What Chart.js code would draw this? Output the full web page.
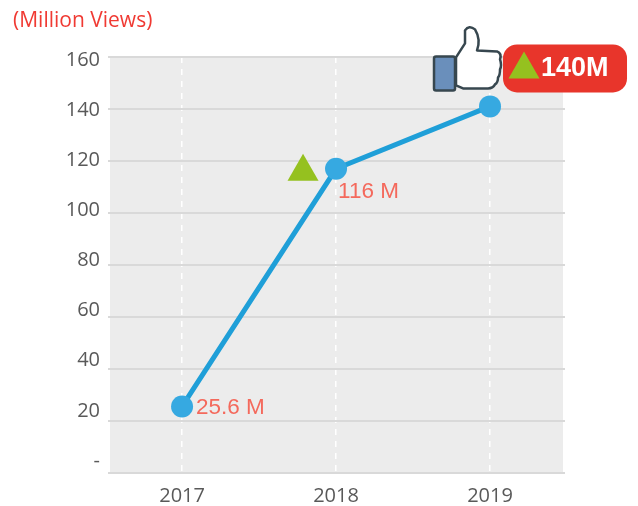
<!DOCTYPE html>
<html>
<head>
<meta charset="utf-8">
<script src="https://cdn.jsdelivr.net/npm/chart.js@4/dist/chart.umd.min.js"></script>
<style>html,body{margin:0;padding:0;background:#fff}canvas{display:block}</style>
</head>
<body>
<canvas id="c" width="638" height="506"></canvas>
<script>
const categories = [2017, 2018, 2019];
const views = [25.6, 117, 141];
const pointLabels = ['25.6 M', '116 M', ''];
const yTicks = [0, 20, 40, 60, 80, 100, 120, 140, 160];
const unitLabel = '(Million Views)';
const badgeLabel = '140M';

function triangle(ctx, cx, top, w, h) {
  ctx.fillStyle = '#95c11f';
  ctx.beginPath();
  ctx.moveTo(cx, top);
  ctx.lineTo(cx + w / 2, top + h);
  ctx.lineTo(cx - w / 2, top + h);
  ctx.closePath();
  ctx.fill();
}

const backdrop = {
  id: 'backdrop',
  beforeDraw(chart) {
    const a = chart.chartArea, ctx = chart.ctx;
    ctx.save();
    ctx.fillStyle = '#ececec';
    ctx.fillRect(a.left, a.top, a.right - a.left - 2, a.bottom - a.top);
    ctx.restore();
  }
};

const annotations = {
  id: 'annotations',
  afterDatasetsDraw(chart) {
    const ctx = chart.ctx, pts = chart.getDatasetMeta(0).data;
    ctx.save();
    // text
    ctx.font = '22.5px "Liberation Sans"';
    ctx.fillStyle = '#f4695c';
    ctx.textBaseline = 'middle';
    ctx.textAlign = 'left';
    ctx.fillText(pointLabels[0], pts[0].x + 14, pts[0].y + 1);
    ctx.fillText(pointLabels[1], pts[1].x + 2, pts[1].y + 23);
    // title
    ctx.font = '21px "Open Sans"';
    ctx.fillStyle = '#f03a33';
    ctx.fillText(unitLabel, 13, 21);
    // green triangle by 2018
    triangle(ctx, pts[1].x - 33, pts[1].y - 15, 31, 27);
    // badge
    const bx = pts[2].x + 13, by = pts[2].y - 62;
    ctx.fillStyle = '#e8352b';
    ctx.beginPath();
    ctx.roundRect(bx, by, 124, 48, 14);
    ctx.fill();
    triangle(ctx, bx + 21, by + 7, 31, 27);
    ctx.font = 'bold 27px "Liberation Sans"';
    ctx.fillStyle = '#ffffff';
    ctx.fillText(badgeLabel, bx + 38, by + 24);
    // thumb
    const ox = pts[2].x, oy = pts[2].y;
    ctx.translate(ox - 490, oy - 107);
    ctx.lineJoin = 'round';
    ctx.strokeStyle = '#37474f';
    ctx.lineWidth = 2.5;
    ctx.fillStyle = '#ffffff';
    ctx.beginPath();
    ctx.moveTo(456, 58);
    ctx.lineTo(465, 44);
    ctx.lineTo(465, 31);
    ctx.quadraticCurveTo(469, 25, 475, 30);
    ctx.quadraticCurveTo(481, 40, 477, 51);
    ctx.lineTo(497, 52);
    ctx.quadraticCurveTo(502, 54, 500, 60);
    ctx.quadraticCurveTo(502, 66, 500, 70);
    ctx.quadraticCurveTo(500, 76, 498, 78);
    ctx.quadraticCurveTo(498, 83, 495, 85);
    ctx.quadraticCurveTo(493, 89, 488, 89);
    ctx.lineTo(463, 89);
    ctx.lineTo(456, 86);
    ctx.closePath();
    ctx.fill();
    ctx.stroke();
    ctx.fillStyle = '#6a8fbb';
    ctx.beginPath();
    ctx.roundRect(434, 57, 21, 34, 2);
    ctx.fill();
    ctx.stroke();
    ctx.restore();
  }
};

new Chart(document.getElementById('c'), {
  type: 'line',
  data: {
    datasets: [{
      data: categories.map((c, i) => ({ x: c, y: views[i] })),
      yAxisID: 'y',
      borderColor: '#1f9fd8',
      borderWidth: 5,
      backgroundColor: '#36a9e1',
      pointBackgroundColor: '#36a9e1',
      pointBorderWidth: 0,
      pointRadius: 11,
      tension: 0,
      clip: false
    }]
  },
  options: {
    responsive: false,
    animation: false,
    layout: { padding: { top: 57, right: 73, left: 0, bottom: 0 } },
    plugins: { legend: { display: false }, tooltip: { enabled: false } },
    scales: {
      x: {
        type: 'linear',
        min: 2016.532,
        max: 2019.487,
        afterFit(s) { s.height = 33; },
        afterBuildTicks(s) { s.ticks = categories.map(v => ({ value: v })); },
        grid: { color: '#ffffff', lineWidth: 1.5, drawTicks: false },
        border: { display: false, dash: [6, 6] },
        ticks: {
          color: '#595959',
          font: { family: 'Open Sans', size: 20 },
          padding: 11,
          maxRotation: 0,
          callback: v => String(v)
        }
      },
      y: {
        min: 0,
        max: 160,
        weight: 0,
        afterFit(s) { s.width = 2; },
        afterBuildTicks(s) { s.ticks = yTicks.map(v => ({ value: v })); },
        grid: { color: '#d9d9d9', lineWidth: 2, tickLength: 2 },
        border: { display: false },
        ticks: { display: false }
      },
      // label axis: the reference's tick labels sit on a slightly tighter pitch than its gridlines
      yLabels: {
        type: 'linear',
        position: 'left',
        min: -4.79,
        max: 161.2,
        weight: 1,
        afterFit(s) { s.width = 108; },
        afterBuildTicks(s) { s.ticks = yTicks.map(v => ({ value: v })); },
        grid: { display: false, drawTicks: false },
        border: { display: false },
        ticks: {
          color: '#595959',
          font: { family: 'Open Sans', size: 20 },
          padding: 8,
          callback: v => (v === 0 ? '-' : String(v))
        }
      }
    }
  },
  plugins: [backdrop, annotations]
});
</script>
</body>
</html>
